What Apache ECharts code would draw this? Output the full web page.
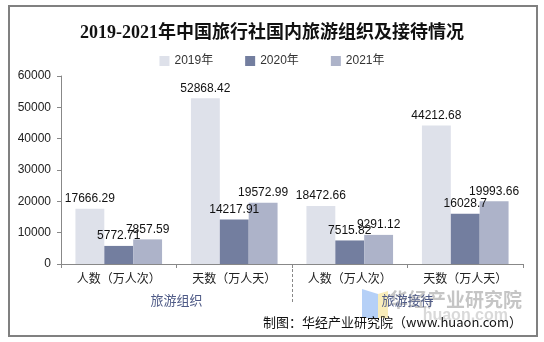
<!DOCTYPE html>
<html>
<head>
<meta charset="utf-8">
<script src="https://cdn.jsdelivr.net/npm/echarts@6/dist/echarts.min.js"></script>
<style>
  html, body { margin: 0; padding: 0; background: #fff; }
  #chart { width: 544px; height: 342px; }
</style>
</head>
<body>
<div id="chart"></div>
<script>
// Categories and groups
const categories = ['人数（万人次）', '天数（万人天）', '人数（万人次）', '天数（万人天）'];
const groups = ['旅游组织', '旅游接待'];
const seriesNames = ['2019年', '2020年', '2021年'];

// Values per year
const values2019 = [17666.29, 52868.42, 18472.66, 44212.68];
const values2020 = [5772.71, 14217.91, 7515.82, 16028.7];
const values2021 = [7857.59, 19572.99, 9291.12, 19993.66];

const colors = ['#dee1ea', '#737e9f', '#adb3c9'];
const FONT = '"Liberation Sans", "Noto Sans CJK SC", sans-serif';

const chart = echarts.init(document.getElementById('chart'));

function barSeries(name, data, color) {
  return {
    name: name,
    type: 'bar',
    xAxisIndex: 0,
    data: data,
    barGap: '0%',
    barCategoryGap: '25%',
    itemStyle: { color: color },
    label: {
      show: true,
      position: 'top',
      distance: 4,
      color: '#111',
      fontSize: 12,
      fontFamily: FONT
    }
  };
}

chart.setOption({
  animation: false,
  backgroundColor: '#fff',
  title: {
    text: '2019-2021年中国旅行社国内旅游组织及接待情况',
    left: 'center',
    top: 19,
    textStyle: {
      fontSize: 18,
      fontWeight: 'bold',
      color: '#111',
      fontFamily: '"Liberation Serif", "Noto Sans CJK SC", serif'
    }
  },
  legend: {
    top: 50,
    left: 'center',
    itemWidth: 10,
    itemHeight: 10,
    itemGap: 32,
    icon: 'rect',
    textStyle: { fontSize: 12, color: '#333', fontFamily: FONT },
    data: seriesNames
  },
  grid: { left: 61, right: 21, top: 76, bottom: 78 },
  xAxis: [
    {
      type: 'category',
      data: categories,
      axisLine: { lineStyle: { color: '#888', width: 1 } },
      axisTick: { show: true, length: 4, lineStyle: { color: '#888' } },
      axisLabel: { color: '#222', fontSize: 12, margin: 10, fontFamily: FONT }
    },
    {
      type: 'category',
      data: groups,
      position: 'bottom',
      axisLine: { show: false },
      axisTick: { show: false },
      axisLabel: { color: '#4e5a86', fontSize: 13, margin: 31, fontFamily: FONT }
    }
  ],
  yAxis: {
    type: 'value',
    min: 0,
    max: 60000,
    interval: 10000,
    axisLine: { show: true, lineStyle: { color: '#888' } },
    axisTick: { show: true, length: 4, lineStyle: { color: '#888' } },
    splitLine: { show: false },
    axisLabel: {
      color: '#222', fontSize: 12, margin: 10, fontFamily: FONT,
      formatter: function (v) { return String(v); }
    }
  },
  series: [
    barSeries(seriesNames[0], values2019, colors[0]),
    barSeries(seriesNames[1], values2020, colors[1]),
    barSeries(seriesNames[2], values2021, colors[2])
  ]
});

// Group separator between the two category pairs, placed from the axis scale
const xA = chart.convertToPixel({ xAxisIndex: 0 }, 1);
const xB = chart.convertToPixel({ xAxisIndex: 0 }, 2);
const sepX = Math.round((xA + xB) / 2) + 0.5;
const baseY = chart.convertToPixel({ yAxisIndex: 0 }, 0);

chart.setOption({
  graphic: [
    {
      type: 'rect',
      shape: { x: 9, y: 6, width: 528, height: 330 },
      style: { fill: 'none', stroke: '#808080', lineWidth: 2 },
      silent: true
    },
    {
      type: 'line',
      shape: { x1: sepX, y1: baseY, x2: sepX, y2: baseY + 40 },
      style: { stroke: '#888', lineWidth: 1, lineDash: [3, 2] },
      silent: true
    },
    // watermark logo
    {
      type: 'polygon',
      shape: { points: [[362, 289], [378, 294], [378, 318], [362, 318]] },
      style: { fill: 'rgba(120,170,240,0.55)' },
      silent: true
    },
    {
      type: 'polygon',
      shape: { points: [[378, 294], [388, 291], [388, 318], [378, 318]] },
      style: { fill: 'rgba(245,225,140,0.6)' },
      silent: true
    },
    {
      type: 'text',
      style: {
        text: '华经产业研究院',
        x: 522, y: 300,
        align: 'right', verticalAlign: 'middle',
        font: 'bold 19px "Noto Sans CJK SC", sans-serif',
        fill: 'rgba(140,140,140,0.5)'
      },
      silent: true
    },
    {
      type: 'text',
      style: {
        text: 'huaon.com',
        x: 508, y: 316,
        align: 'right', verticalAlign: 'middle',
        font: 'bold 16px "Liberation Sans", sans-serif',
        fill: 'rgba(170,170,170,0.45)'
      },
      silent: true
    },
    {
      type: 'text',
      style: {
        text: '制图：华经产业研究院（www.huaon.com）',
        x: 522, y: 322,
        align: 'right', verticalAlign: 'middle',
        font: '13px "Noto Sans CJK SC", sans-serif',
        fill: '#111'
      },
      silent: true
    }
  ]
});
</script>
</body>
</html>
